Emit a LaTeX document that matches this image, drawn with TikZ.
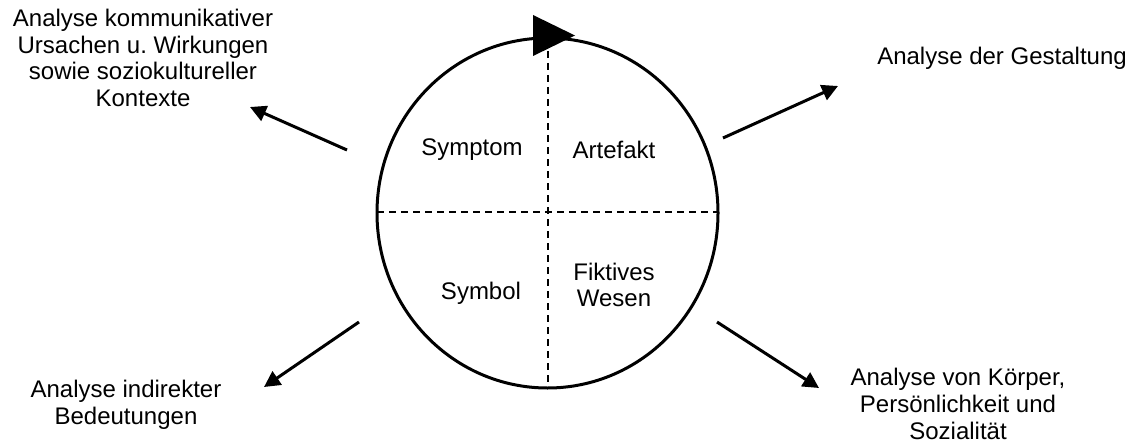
\documentclass[tikz,border=0pt]{standalone}
\usepackage{fontspec}
\setmainfont{Liberation Sans}
\usetikzlibrary{arrows.meta}
\frenchspacing

\begin{document}
\begin{tikzpicture}[x=0.5pt,y=-0.5pt,
    lbl/.style={align=center,font=\fontsize{12}{13.3}\selectfont,inner sep=0pt},
    outarrow/.style={line width=1.5pt,-{Triangle[length=8pt,width=8pt]}},
    divider/.style={line width=1pt,dash pattern=on 3.5pt off 2.5pt}]
  \useasboundingbox (0,0) rectangle (1133,444);

  % circle with quadrants
  \coordinate (mid) at (547.5,213);
  \draw[line width=1.5pt] (mid) ellipse [x radius=170.5, y radius=175];
  \draw[divider] (548,39) -- (548,388);
  \draw[divider] (377,212) -- (718,212);
  \fill (533,15) -- (575,35.5) -- (533,56) -- cycle;

  \node[lbl] (symptom) at (472,150) {Symptom};
  \node[lbl] (artefakt) at (614,150) {Artefakt};
  \node[lbl] (symbol) at (481,293) {Symbol};
  \node[lbl] (wesen) at (614,285) {Fiktives\\Wesen};

  % outer labels
  \node[lbl] (kontext) at (143,58) {Analyse kommunikativer\\Ursachen u. Wirkungen\\sowie soziokultureller\\Kontexte};
  \node[lbl] (gestalt) at (1002,58) {Analyse der Gestaltung};
  \node[lbl] (bedeut) at (126,405) {Analyse indirekter\\Bedeutungen};
  \node[lbl] (koerper) at (958,404) {Analyse von K\"orper,\\Pers\"onlichkeit und\\Sozialit\"at};

  % arrows
  \coordinate (ul0) at (347,150);  \coordinate (ul1) at (250,107);
  \coordinate (ur0) at (723,138);  \coordinate (ur1) at (838,86);
  \coordinate (ll0) at (359,322);  \coordinate (ll1) at (264,387);
  \coordinate (lr0) at (717,322);  \coordinate (lr1) at (819,388);
  \draw[outarrow] (ul0) -- (ul1);
  \draw[outarrow] (ur0) -- (ur1);
  \draw[outarrow] (ll0) -- (ll1);
  \draw[outarrow] (lr0) -- (lr1);
\end{tikzpicture}
\end{document}
